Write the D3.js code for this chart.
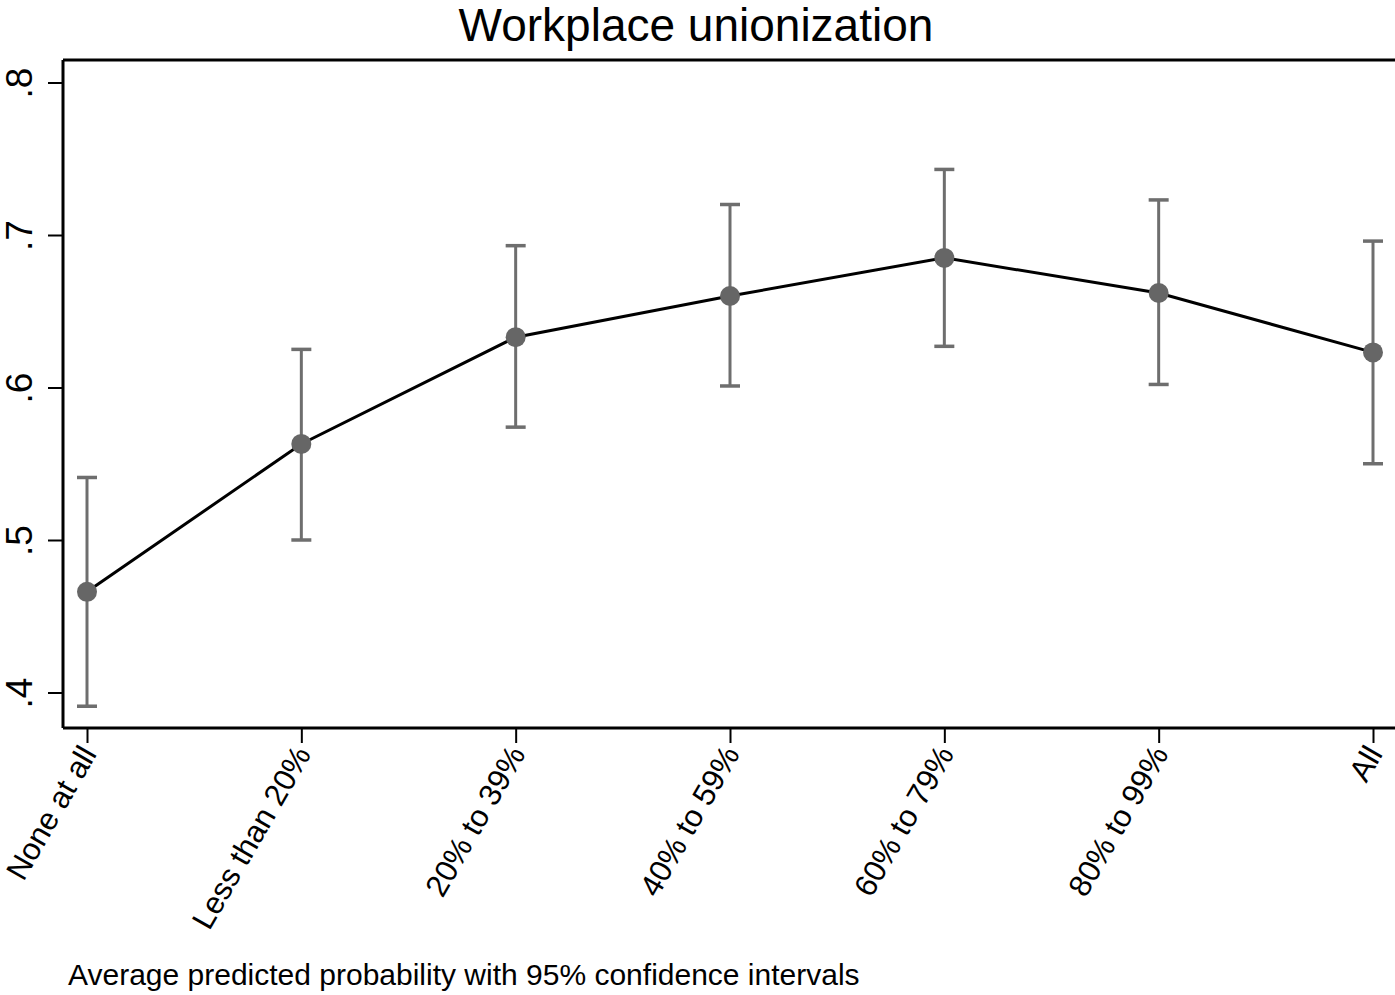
<!DOCTYPE html>
<html>
<head>
<meta charset="utf-8">
<script src="https://cdn.jsdelivr.net/npm/d3@7"></script>
<style>
  html, body { margin: 0; padding: 0; background: #fff; overflow: hidden; }
  svg { display: block; font-family: "Liberation Sans", Arial, Helvetica, sans-serif; }
</style>
</head>
<body>
<svg id="chart" width="1395" height="995"></svg>
<script>
const categories = ["None at all", "Less than 20%", "20% to 39%", "40% to 59%", "60% to 79%", "80% to 99%", "All"];
const estimates = [0.466, 0.563, 0.633, 0.660, 0.685, 0.662, 0.623];
const lowerCI   = [0.391, 0.500, 0.574, 0.601, 0.627, 0.602, 0.550];
const upperCI   = [0.541, 0.625, 0.693, 0.720, 0.743, 0.723, 0.696];
const yTicks = [0.4, 0.5, 0.6, 0.7, 0.8];
const yTickLabels = [".4", ".5", ".6", ".7", ".8"];
const titleText = "Workplace unionization";
const noteText = "Average predicted probability with 95% confidence intervals";

const svg = d3.select("#chart");
const plot = { left: 63, right: 1400, top: 60, bottom: 728 };

const x = d3.scalePoint().domain(categories).range([87, 1373]);
const y = d3.scaleLinear().domain([0.4, 0.8]).range([692.5, 82.5]);

const data = categories.map((c, i) => ({ c, est: estimates[i], lo: lowerCI[i], hi: upperCI[i] }));

// plot frame (top border)
svg.append("path")
  .attr("d", `M${plot.left},${plot.top}H${plot.right}`)
  .attr("stroke", "#000").attr("stroke-width", 3).attr("fill", "none");

// Y axis
const yAxis = d3.axisLeft(y).tickValues(yTicks).tickFormat((d, i) => yTickLabels[i]).tickSize(15).tickPadding(0);
const gy = svg.append("g").attr("transform", `translate(${plot.left},0)`).call(yAxis);
gy.select(".domain").attr("d", `M0,${plot.top}V${plot.bottom}`).attr("stroke-width", 3);
gy.selectAll(".tick line").attr("stroke-width", 2);
gy.selectAll(".tick text")
  .attr("font-size", 37)
  .attr("fill", "#000")
  .attr("text-anchor", "middle")
  .attr("x", null).attr("dy", null)
  .attr("transform", "translate(-31,0) rotate(-90)")
  .attr("y", 0);

// X axis
const xAxis = d3.axisBottom(x).tickSize(15).tickPadding(0);
const gx = svg.append("g").attr("transform", `translate(0,${plot.bottom})`).call(xAxis);
gx.select(".domain").attr("d", `M${plot.left},0H${plot.right}`).attr("stroke-width", 3);
gx.selectAll(".tick line").attr("stroke-width", 2);
gx.selectAll(".tick text")
  .attr("font-size", 31)
  .attr("fill", "#000")
  .attr("text-anchor", "end")
  .attr("y", null).attr("dy", null)
  .attr("transform", "translate(10,26) rotate(-60)");

// error bars
const capW = 10;
const eb = svg.append("g").attr("stroke", "#6e6e6e").attr("stroke-width", 3).attr("fill", "none");
data.forEach(d => {
  const cx = x(d.c);
  eb.append("line").attr("x1", cx).attr("x2", cx).attr("y1", y(d.lo)).attr("y2", y(d.hi));
  eb.append("line").attr("x1", cx - capW).attr("x2", cx + capW).attr("y1", y(d.lo)).attr("y2", y(d.lo)).attr("stroke-width", 3.5);
  eb.append("line").attr("x1", cx - capW).attr("x2", cx + capW).attr("y1", y(d.hi)).attr("y2", y(d.hi)).attr("stroke-width", 3.5);
});

// connecting line
const line = d3.line().x(d => x(d.c)).y(d => y(d.est));
svg.append("path").datum(data).attr("d", line)
  .attr("fill", "none").attr("stroke", "#000").attr("stroke-width", 3);

// markers
svg.append("g").selectAll("circle").data(data).join("circle")
  .attr("cx", d => x(d.c)).attr("cy", d => y(d.est)).attr("r", 10)
  .attr("fill", "#666666");

// title
svg.append("text").attr("x", 696).attr("y", 41).attr("text-anchor", "middle")
  .attr("font-size", 46).attr("fill", "#000").text(titleText);

// note
svg.append("text").attr("x", 68).attr("y", 985).attr("text-anchor", "start")
  .attr("font-size", 30).attr("fill", "#000").text(noteText);
</script>
</body>
</html>
